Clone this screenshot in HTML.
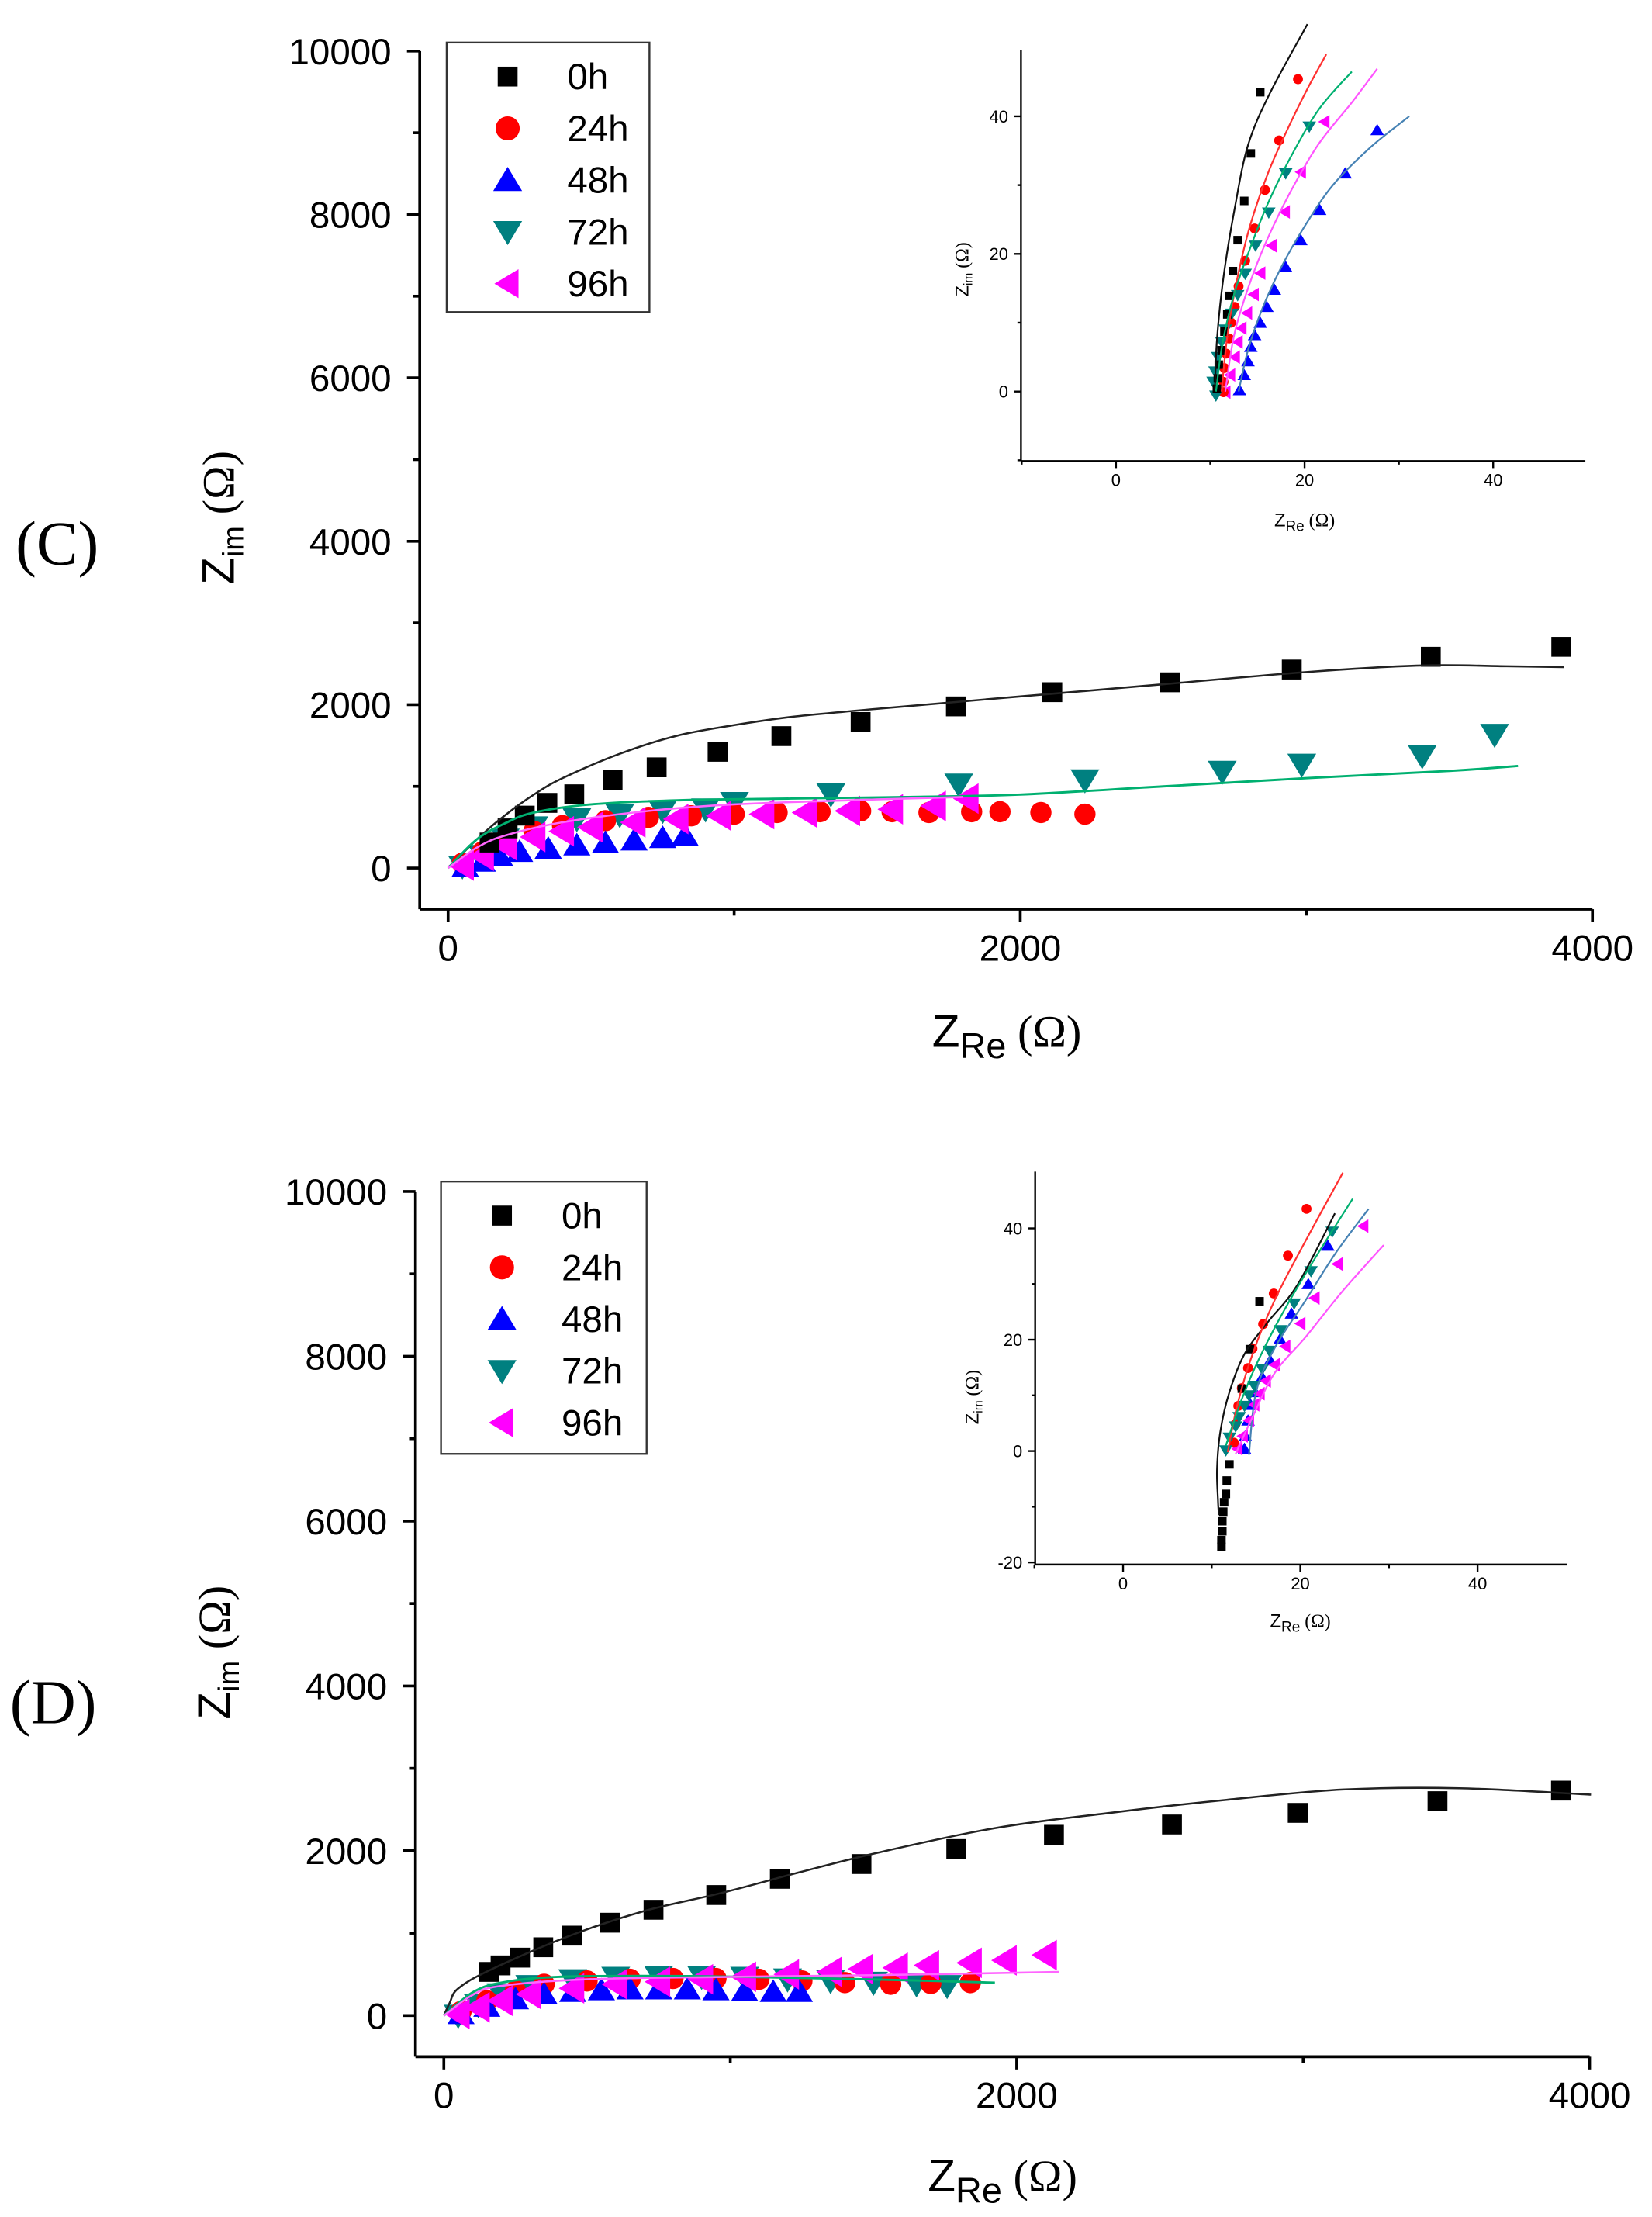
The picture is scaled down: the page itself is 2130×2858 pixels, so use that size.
<!DOCTYPE html>
<html><head><meta charset="utf-8"><style>
html,body{margin:0;padding:0;background:#fff;}
svg{display:block;}
text{font-family:"Liberation Sans",Arial,sans-serif;fill:#000;}
.serif{font-family:"Liberation Serif",serif;}
</style></head><body>
<svg id="fig" xmlns="http://www.w3.org/2000/svg" width="2130" height="2858" viewBox="0 0 1165 1563" preserveAspectRatio="none">
<rect width="1165" height="1563" fill="#fff"/>
<text class="serif" x="11" y="398" font-size="44">(C)</text>
<text class="serif" x="7" y="1215" font-size="44">(D)</text>
<g id="layer"></g>
</svg>
<script>
// ===== Panel C main data (Ohm) =====
const cTicksX=[0,2000,4000];
const cTicksY=[0,2000,4000,6000,8000,10000];
const c0hX=[145,208,268,347,441,575,729,942,1165,1442,1775,2112,2523,2949,3435,3891];
const c0hY=[313,486,642,798,903,1076,1233,1424,1615,1788,1979,2153,2274,2430,2586,2708];
const c24hX=[50,120,200,300,400,550,700,850,1000,1150,1300,1442,1552,1681,1830,1929,2072,2226];
const c24hY=[60,200,350,450,520,580,620,640,660,680,690,700,690,680,690,690,680,660];
const c48hX=[60,120,180,250,350,450,550,650,750,828];
const c48hY=[20,80,150,200,240,280,310,340,370,400];
const c72hX=[50,120,200,300,450,600,750,900,1001,1338,1785,2226,2706,2984,3405,3658];
const c72hY=[20,150,350,500,600,650,700,720,798,903,1024,1076,1180,1267,1371,1632];
const c96hX=[50,120,200,300,400,500,650,800,950,1100,1250,1400,1550,1700,1814];
const c96hY=[30,150,280,380,450,500,560,600,640,660,680,700,720,760,850];
const cFit0X=[0,100,200,300,400,600,800,1000,1200,1500,2000,2500,3000,3400,3700,3900];
const cFit0Y=[0,350,650,900,1100,1400,1620,1750,1850,1950,2100,2250,2400,2480,2470,2460];
const cFit72X=[0,100,200,300,500,800,1200,1600,2000,2500,3000,3500,3740];
const cFit72Y=[0,350,550,680,780,830,850,870,900,1000,1100,1190,1250];
const cFit96X=[0,100,200,400,700,1000,1400,1800];
const cFit96Y=[0,250,400,560,700,780,830,870];
// ===== Panel C inset =====
const ciTicks=[0,20,40];
const ci0hX=[10.7,10.8,10.9,11.2,11.5,11.8,12.0,12.4,12.9,13.6,14.3,15.3];
const ci0hY=[0.4,1.9,3.9,6,8.7,11.2,13.9,17.5,22.0,27.7,34.6,43.5];
const ci24hX=[11.4,11.4,11.5,11.7,12,12.2,12.6,13.0,13.7,14.7,15.8,17.3,19.3];
const ci24hY=[-0.1,1.4,3.4,5.5,7.7,10,12.3,15.3,19.0,23.7,29.3,36.5,45.4];
const ci48hX=[13.1,13.6,14,14.3,14.7,15.3,16,16.8,18,19.6,21.6,24.3,27.7];
const ci48hY=[0.2,2.4,4.4,6.5,8.2,10,12.3,14.8,18.1,22,26.4,31.7,38];
const ci72hX=[10.6,10.3,10.5,10.8,11.2,11.6,12.3,12.9,13.7,14.8,16.2,18,20.5];
const ci72hY=[-0.6,1.4,2.9,5,7.2,9,11.3,14,17.1,21.2,26,31.7,38.5];
const ci96hX=[11.6,12.1,12.6,12.9,13.3,13.9,14.6,15.3,16.5,17.9,19.6,22.1];
const ci96hY=[-0.1,2.4,5,7.2,9.2,11.4,14.1,17.2,21.2,26.1,31.9,39.2];
const ciF0X=[10.5,10.7,11.4,12.6,14.0,16.3,20.3];
const ciF0Y=[0.2,7.5,16.6,26.7,35.8,43.3,53.4];
const ciF24X=[11.2,11.8,12.8,14.2,16.2,18.5,20.3,22.3];
const ciF24Y=[0,8,16,24,32,39,44,49];
const ciF48X=[13,14,15.5,17.5,20,23,27,31.1];
const ciF48Y=[0,6,12,18,24,30,35.5,40];
const ciF72X=[10.6,11.3,12.5,14,16,18.5,21.5,25.0];
const ciF72Y=[0,7,14,20,27,34,41,46.5];
const ciF96X=[11.6,12.5,14,16,18.5,21.5,25,27.7];
const ciF96Y=[0,8,15,22,29,36,42,46.9];
// ===== Panel D main =====
const d0hX=[157,198,266,347,447,580,732,951,1173,1458,1789,2130,2542,2981,3469,3900];
const d0hY=[530,609,703,829,970,1127,1284,1463,1660,1839,2021,2194,2319,2460,2602,2730];
const d24hX=[60,150,250,350,500,650,800,950,1100,1250,1400,1560,1700,1838];
const d24hY=[50,180,300,380,420,440,450,450,440,420,400,380,390,400];
const d48hX=[60,150,250,350,450,550,650,750,850,950,1050,1150,1241];
const d48hY=[20,110,200,260,290,310,320,320,320,310,300,290,290];
const d72hX=[50,120,200,300,450,600,750,900,1050,1200,1350,1500,1650,1757];
const d72hY=[0,130,260,360,430,460,470,470,460,440,420,400,380,360];
const d96hX=[50,120,200,300,450,600,750,900,1050,1200,1350,1458,1580,1689,1838,1960,2100];
const d96hY=[20,100,180,260,330,380,410,440,470,500,530,565,580,609,640,670,734];
const dFit0X=[0,20,49,157,428,699,970,1241,1512,1919,2325,2732,3138,3545,4005];
const dFit0Y=[0,150,326,546,954,1268,1488,1739,1974,2272,2460,2618,2743,2759,2681];
const dFit72X=[0,100,200,400,800,1200,1600,1924];
const dFit72Y=[0,280,400,470,480,460,430,400];
const dFit96X=[0,100,200,500,1000,1500,2149];
const dFit96Y=[0,250,360,440,470,490,530];
// ===== Panel D inset =====
const diTicksX=[0,20,40];
const diTicksY=[-20,0,20,40];
const di0hX=[11.1,11.1,11.2,11.2,11.3,11.4,11.6,11.7,12,13.4,14.3,15.4];
const di0hY=[-17.2,-16,-14.4,-12.6,-10.9,-9.2,-7.7,-5.3,-2.4,11.2,18.3,26.9];
const di24hX=[12.5,12.7,13,13.4,14.1,14.6,15.8,17,18.6,20.7];
const di24hY=[1.5,4.9,8.1,11.3,14.9,18.4,22.8,28.3,35.1,43.5];
const di48hX=[13.7,13.8,14.1,14.4,14.9,15.7,16.6,17.7,19,20.9,23.1];
const di48hY=[0.4,2.7,5.5,8.3,10.6,13.3,16.3,20.1,24.7,30,36.9];
const di72hX=[11.6,12,12.7,13.1,13.7,14.2,14.8,15.7,16.5,17.8,19.3,21.2,23.6];
const di72hY=[0.1,2.4,4.4,6.1,8.1,10,11.7,14.7,18,21.7,26.5,32.3,39.4];
const di96hX=[12.9,13.5,14.2,14.8,15.4,16.1,17.1,18.3,20,21.6,24.2,27.1];
const di96hY=[0.4,2.7,5.5,8.3,10.3,12.6,15.5,18.8,22.9,27.5,33.6,40.4];
const diF0X=[10.8,10.7,10.6,11,12,13.7,16.3,19.7,23.9];
const diF0Y=[-11.5,-8.7,-3,3.8,10.6,17.4,23.1,29.9,42.7];
const diF24X=[11.8,12.9,14.6,17.1,20.6,24.8];
const diF24Y=[-0.2,8.3,17.4,27.1,37.8,50];
const diF48X=[14.2,15,17.1,20.6,24,27.7];
const diF48Y=[-0.7,10.6,18.5,27.1,35.6,43.5];
const diF72X=[11.6,13.3,15.4,18.4,21.8,25.9];
const diF72Y=[1,8.9,16.8,25.9,35,45.3];
const diF96X=[12.7,14.6,17.1,20.6,24.8,29.4];
const diF96Y=[-0.5,6.1,14,20.5,28.8,37];

const NS='http://www.w3.org/2000/svg';
const layer=document.getElementById('layer');
function mk(tag,attrs,parent){const e=document.createElementNS(NS,tag);for(const k in attrs)e.setAttribute(k,attrs[k]);(parent||layer).appendChild(e);return e;}
function lin(v0,p0,v1,p1){return v=>p0+(v-v0)*(p1-p0)/(v1-v0);}
function marker(g,shape,x,y,s,color){
  let e;
  if(shape==='sq'){e=mk('rect',{x:x-s/2,y:y-s/2,width:s,height:s,fill:color},g);}
  else if(shape==='ci'){e=mk('circle',{cx:x,cy:y,r:s/2,fill:color},g);}
  else if(shape==='up'){e=mk('polygon',{points:`${x},${y-s*0.55} ${x-s*0.6},${y+s*0.45} ${x+s*0.6},${y+s*0.45}`,fill:color},g);}
  else if(shape==='dn'){e=mk('polygon',{points:`${x},${y+s*0.55} ${x-s*0.6},${y-s*0.45} ${x+s*0.6},${y-s*0.45}`,fill:color},g);}
  else {e=mk('polygon',{points:`${x-s*0.55},${y} ${x+s*0.45},${y-s*0.6} ${x+s*0.45},${y+s*0.6}`,fill:color},g);}
  
  
}
function series(g,X,Y,sx,sy,shape,s,color,name){
  const sg=mk('g',{},g);
  
  
  for(let i=0;i<X.length;i++)marker(sg,shape,sx(X[i]),sy(Y[i]),s,color);
}
function fit(g,X,Y,sx,sy,color,w,name){
  const P=X.map((v,i)=>[sx(v),sy(Y[i])]);
  let d='M'+P[0][0].toFixed(1)+','+P[0][1].toFixed(1);
  for(let i=0;i<P.length-1;i++){
    const p0=P[Math.max(0,i-1)],p1=P[i],p2=P[i+1],p3=P[Math.min(P.length-1,i+2)];
    const c1=[p1[0]+(p2[0]-p0[0])/6,p1[1]+(p2[1]-p0[1])/6];
    const c2=[p2[0]-(p3[0]-p1[0])/6,p2[1]-(p3[1]-p1[1])/6];
    d+=' C'+c1[0].toFixed(1)+','+c1[1].toFixed(1)+' '+c2[0].toFixed(1)+','+c2[1].toFixed(1)+' '+p2[0].toFixed(1)+','+p2[1].toFixed(1);
  }
  const p=mk('path',{d:d,fill:'none',stroke:color,'stroke-width':w},g);
  
  
}
function axes(g,o){
  mk('line',{x1:o.left,y1:o.top,x2:o.left,y2:o.bottom,stroke:'#000','stroke-width':o.w},g);
  mk('line',{x1:o.left,y1:o.bottom,x2:o.right,y2:o.bottom,stroke:'#000','stroke-width':o.w},g);
  o.yminor.forEach(v=>mk('line',{x1:o.left-o.tl/2,y1:o.sy(v),x2:o.left,y2:o.sy(v),stroke:'#000','stroke-width':o.w},g));
  o.xminor.forEach(v=>mk('line',{x1:o.sx(v),y1:o.bottom,x2:o.sx(v),y2:o.bottom+o.tl/2,stroke:'#000','stroke-width':o.w},g));
  o.yt.forEach(v=>{mk('line',{x1:o.left-o.tl,y1:o.sy(v),x2:o.left,y2:o.sy(v),stroke:'#000','stroke-width':o.w},g);
    const t=mk('text',{x:o.left-o.tl-o.gap,y:o.sy(v)+o.fs*0.36,'font-size':o.fs,'text-anchor':'end'},g);t.textContent=v;
    
    });
  o.xt.forEach(v=>{mk('line',{x1:o.sx(v),y1:o.bottom,x2:o.sx(v),y2:o.bottom+o.tl,stroke:'#000','stroke-width':o.w},g);
    const t=mk('text',{x:o.sx(v),y:o.bottom+o.tl+o.fs*1.05,'font-size':o.fs,'text-anchor':'middle'},g);t.textContent=v;
    
    });
}
function titles(g,xx,xy,yx,yy,fs,sub){
  const tx=mk('text',{x:xx,y:xy,'font-size':fs,'text-anchor':'middle'},g);
  tx.innerHTML='Z<tspan font-size="'+(fs*0.8)+'" dy="'+(fs*0.25)+'">Re</tspan><tspan dy="'+(-fs*0.25)+'" font-family="Liberation Serif"> (Ω)</tspan>';
  
  
  const ty=mk('text',{x:0,y:0,'font-size':fs,'text-anchor':'middle',transform:`translate(${yx},${yy}) rotate(-90)`},g);
  ty.innerHTML='Z<tspan font-size="'+(fs*0.65)+'" dy="'+(fs*0.2)+'">'+sub+'</tspan><tspan dy="'+(-fs*0.2)+'" font-family="Liberation Serif"> (Ω)</tspan>';
  
  
}
function legend(g,x,y,w,h,rows){
  const lg=mk('g',{},g);
  
  
  mk('rect',{x:x,y:y,width:w,height:h,fill:'#fff',stroke:'#333','stroke-width':1.3},lg);
  const labs=['0h','24h','48h','72h','96h'],sh=['sq','ci','up','dn','lt'],col=['#000','#ff0000','#0000ff','#008080','#ff00ff'];
  for(let i=0;i<5;i++){
    const cy=y+24+i*rows;
    marker(lg,sh[i],x+43,cy,i===0?14:17,col[i]);
    const t=mk('text',{x:x+85,y:cy+9,'font-size':26},lg);t.textContent=labs[i];
    
    
  }
}
const COL={k:'#000',r:'#ff0000',b:'#0000ff',t:'#008080',m:'#ff00ff'};
function drawMain(g,sx,sy,S,F){
  series(g,S[3][0],S[3][1],sx,sy,'dn',17,COL.t,'series-72h');
  series(g,S[1][0],S[1][1],sx,sy,'ci',15,COL.r,'series-24h');
  series(g,S[2][0],S[2][1],sx,sy,'up',16,COL.b,'series-48h');
  series(g,S[4][0],S[4][1],sx,sy,'lt',18,COL.m,'series-96h');
  series(g,S[0][0],S[0][1],sx,sy,'sq',14,COL.k,'series-0h');
  fit(g,F[0][0],F[0][1],sx,sy,'#222',1.4,'fit-0h');
  fit(g,F[1][0],F[1][1],sx,sy,'#00b070',1.6,'fit-72h');
  fit(g,F[2][0],F[2][1],sx,sy,'#ff66ff',1.4,'fit-96h');
}
function drawInset(g,sx,sy,S,F){
  series(g,S[2][0],S[2][1],sx,sy,'up',8,COL.b,'inset-48h');
  series(g,S[4][0],S[4][1],sx,sy,'lt',8,COL.m,'inset-96h');
  series(g,S[1][0],S[1][1],sx,sy,'ci',7,COL.r,'inset-24h');
  series(g,S[3][0],S[3][1],sx,sy,'dn',8,COL.t,'inset-72h');
  series(g,S[0][0],S[0][1],sx,sy,'sq',6,COL.k,'inset-0h');
  const fc=['#111','#ff3030','#4682b4','#00b070','#ff55ff'];
  const fn=['fit-0h','fit-24h','fit-48h','fit-72h','fit-96h'];
  for(let i=0;i<5;i++)fit(g,F[i][0],F[i][1],sx,sy,fc[i],1.2,'inset-'+fn[i]);
}
// Panel C
(function(){
  const g=mk('g',{});
  
  
  const sx=lin(0,316,4000,1123), sy=lin(0,612,10000,36);
  axes(g,{left:296,bottom:641,right:1123,top:36,sx,sy,xt:cTicksX,yt:cTicksY,xminor:[1000,3000],yminor:[1000,3000,5000,7000,9000],fs:26,tl:9,w:2,gap:11});
  titles(g,710,738,165,365,32,'im');
  drawMain(g,sx,sy,[[c0hX,c0hY],[c24hX,c24hY],[c48hX,c48hY],[c72hX,c72hY],[c96hX,c96hY]],[[cFit0X,cFit0Y],[cFit72X,cFit72Y],[cFit96X,cFit96Y]]);
  legend(g,315,30,143,190,36.5);
  const gi=mk('g',{});
  
  
  const ix=lin(0,787,40,1053), iy=lin(0,276,40,82);
  axes(gi,{left:720,bottom:325,right:1118,top:35,sx:ix,sy:iy,xt:ciTicks,yt:ciTicks,xminor:[-10,10,30],yminor:[-10,10,30],fs:12,tl:5,w:1.3,gap:4});
  titles(gi,920,371,683,190,13,'im');
  drawInset(gi,ix,iy,[[ci0hX,ci0hY],[ci24hX,ci24hY],[ci48hX,ci48hY],[ci72hX,ci72hY],[ci96hX,ci96hY]],[[ciF0X,ciF0Y],[ciF24X,ciF24Y],[ciF48X,ciF48Y],[ciF72X,ciF72Y],[ciF96X,ciF96Y]]);
})();
// Panel D
(function(){
  const g=mk('g',{});
  
  
  const sx=lin(0,313,4000,1121), sy=lin(0,1421,10000,840);
  axes(g,{left:293,bottom:1450,right:1121,top:840,sx,sy,xt:cTicksX,yt:cTicksY,xminor:[1000,3000],yminor:[1000,3000,5000,7000,9000],fs:26,tl:9,w:2,gap:11});
  titles(g,707,1545,162,1165,32,'im');
  drawMain(g,sx,sy,[[d0hX,d0hY],[d24hX,d24hY],[d48hX,d48hY],[d72hX,d72hY],[d96hX,d96hY]],[[dFit0X,dFit0Y],[dFit72X,dFit72Y],[dFit96X,dFit96Y]]);
  legend(g,311,833,145,192,36.5);
  const gi=mk('g',{});
  
  
  const ix=lin(0,792,40,1042), iy=lin(0,1023,40,866);
  axes(gi,{left:730,bottom:1103,right:1105,top:826,sx:ix,sy:iy,xt:diTicksX,yt:diTicksY,xminor:[-10,10,30],yminor:[-10,10,30],fs:12,tl:5,w:1.3,gap:4});
  titles(gi,917,1147,690,985,13,'im');
  drawInset(gi,ix,iy,[[di0hX,di0hY],[di24hX,di24hY],[di48hX,di48hY],[di72hX,di72hY],[di96hX,di96hY]],[[diF0X,diF0Y],[diF24X,diF24Y],[diF48X,diF48Y],[diF72X,diF72Y],[diF96X,diF96Y]]);
})();
</script>
</body></html>
